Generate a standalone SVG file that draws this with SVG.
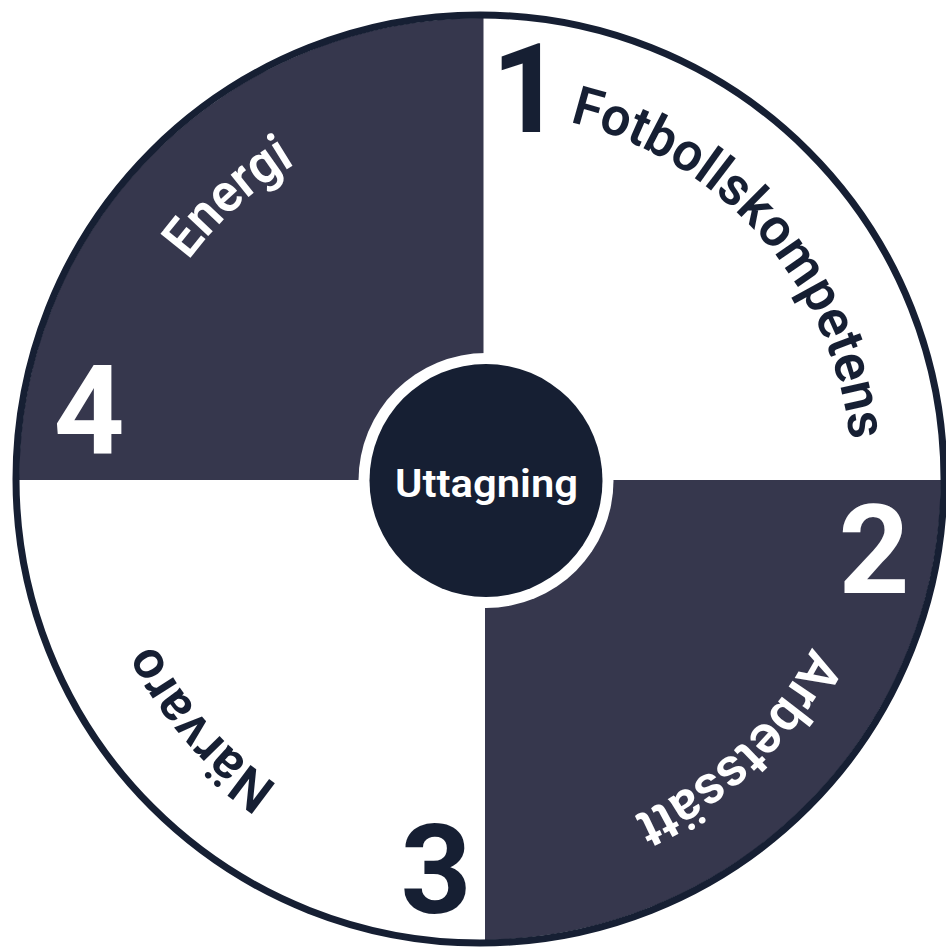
<svg xmlns="http://www.w3.org/2000/svg" xmlns:xlink="http://www.w3.org/1999/xlink" width="946" height="950" viewBox="0 0 946 950">
  <style>
    .dark { fill: #36374d; }
    .navy { fill: #161f33; }
    .lbl { font-family: Roboto, "Liberation Sans", sans-serif; font-weight: 600; font-size: 54px; }
    .num { font-family: Roboto, "Liberation Sans", sans-serif; font-weight: 700; font-size: 124px; text-anchor: middle; }
    .w { fill: #ffffff; }
    .n { fill: #161f33; }
  </style>
  <defs>
    <path id="arc" d="M 484 112 A 368 368 0 1 1 484 848 A 368 368 0 1 1 484 112"/>
  </defs>
  <rect x="0" y="0" width="946" height="950" fill="#ffffff"/>

  <g id="q1-fotbollskompetens">
    <text class="num n" x="527" y="132">1</text>
    <text class="lbl n"><textPath href="#arc" xlink:href="#arc" startOffset="13.5%" text-anchor="middle" textLength="452" lengthAdjust="spacingAndGlyphs">Fotbollskompetens</textPath></text>
  </g>

  <g id="q2-arbetssatt">
    <path class="dark" d="M485,480 L941,480 A461,461 0 0 1 485,940 Z"/>
    <text class="num w" x="874" y="593">2</text>
    <text class="lbl w"><textPath href="#arc" xlink:href="#arc" startOffset="37.92%" text-anchor="middle" textLength="250" lengthAdjust="spacingAndGlyphs">Arbetssätt</textPath></text>
  </g>

  <g id="q3-narvaro">
    <text class="num n" x="436" y="913">3</text>
    <text class="lbl n"><textPath href="#arc" xlink:href="#arc" startOffset="63.56%" text-anchor="middle" textLength="190" lengthAdjust="spacingAndGlyphs">Närvaro</textPath></text>
  </g>

  <g id="q4-energi">
    <path class="dark" d="M483.5,480 L483.5,18 A461,461 0 0 0 19,480 Z"/>
    <text class="num w" x="89" y="453">4</text>
    <text class="lbl w"><textPath href="#arc" xlink:href="#arc" startOffset="88.3%" text-anchor="middle" textLength="145" lengthAdjust="spacingAndGlyphs">Energi</textPath></text>
  </g>

  <g id="ring">
    <circle cx="480" cy="479" r="464" fill="none" stroke="#161f33" stroke-width="7"/>
  </g>

  <g id="center-uttagning">
    <circle cx="486" cy="480.5" r="127.5" fill="#ffffff"/>
    <circle class="navy" cx="486" cy="480.5" r="116.5"/>
    <text x="486.5" y="497" fill="#ffffff" font-family="Roboto, 'Liberation Sans', sans-serif" font-weight="600" font-size="39" text-anchor="middle" textLength="183" lengthAdjust="spacingAndGlyphs">Uttagning</text>
  </g>

  <g id="connectors"></g>
</svg>
